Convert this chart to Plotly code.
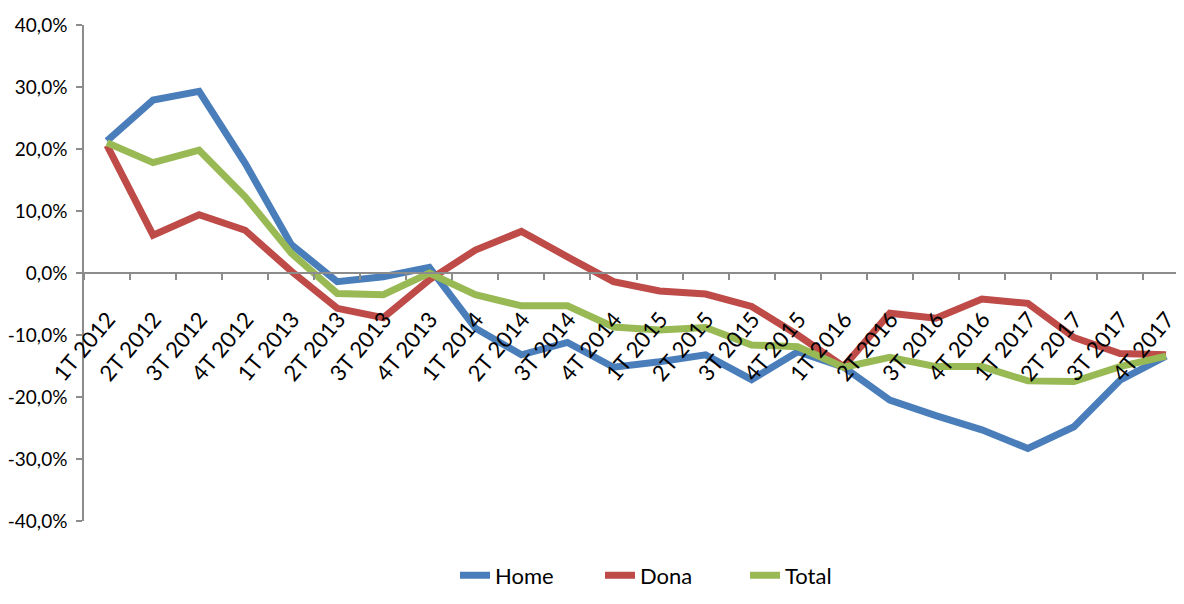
import plotly.graph_objects as go

categories = ["1T 2012", "2T 2012", "3T 2012", "4T 2012",
              "1T 2013", "2T 2013", "3T 2013", "4T 2013",
              "1T 2014", "2T 2014", "3T 2014", "4T 2014",
              "1T 2015", "2T 2015", "3T 2015", "4T 2015",
              "1T 2016", "2T 2016", "3T 2016", "4T 2016",
              "1T 2017", "2T 2017", "3T 2017", "4T 2017"]

home = [21.3, 27.9, 29.3, 17.7, 4.6, -1.4, -0.6, 0.9,
        -8.9, -13.2, -11.2, -15.2, -14.3, -13.2, -17.2, -12.7,
        -15.2, -20.5, -23.0, -25.3, -28.3, -24.8, -17.3, -13.4]
dona = [20.6, 6.1, 9.4, 6.9, 0.3, -5.7, -7.2, -1.1,
        3.7, 6.7, 2.6, -1.4, -2.9, -3.4, -5.4, -10.0,
        -15.1, -6.5, -7.3, -4.2, -4.9, -10.4, -13.0, -13.2]
total = [21.0, 17.8, 19.8, 12.3, 3.2, -3.3, -3.5, 0.0,
         -3.5, -5.3, -5.3, -8.7, -9.2, -8.8, -11.6, -11.9,
         -15.2, -13.6, -15.1, -15.1, -17.4, -17.5, -15.1, -13.4]

series_names = ["Home", "Dona", "Total"]
colors = ["#4A7EBB", "#BE4B48", "#98B954"]

y_tickvals = [40, 30, 20, 10, 0, -10, -20, -30, -40]
y_ticktext = ["40,0%", "30,0%", "20,0%", "10,0%", "0,0%",
              "-10,0%", "-20,0%", "-30,0%", "-40,0%"]

FONT = "Lato, Calibri, Carlito, sans-serif"

fig = go.Figure()
for name, vals, col in zip(series_names, [home, dona, total], colors):
    fig.add_trace(go.Scatter(
        x=categories, y=vals, name=name, mode="lines",
        line=dict(color=col, width=7),
    ))

# page body has an 8px margin: figure is sized/margined to compensate
fig.update_layout(
    width=1176, height=596,
    margin=dict(l=76, r=0, t=17, b=83, autoexpand=False),
    paper_bgcolor="white", plot_bgcolor="white",
    font=dict(family=FONT, size=19, color="black"),
    showlegend=True,
    legend=dict(orientation="h", x=0.535, xanchor="center", y=-0.11,
                yanchor="middle", font=dict(size=22),
                entrywidth=100, entrywidthmode="pixels",
                traceorder="normal"),
    xaxis=dict(
        type="category", range=[-0.5, 23.39],
        anchor="free", position=0.5, automargin=False,
        showline=True, linecolor="#8C8C8C", linewidth=1.5,
        ticks="outside", tickson="boundaries", ticklen=6,
        tickcolor="#8C8C8C", tickwidth=1.5,
        tickangle=-50, showgrid=False, zeroline=False,
        tickfont=dict(size=22), ticklabelstandoff=24, ticklabelshift=1,
    ),
    yaxis=dict(
        range=[-40, 40], tickvals=y_tickvals, ticktext=y_ticktext,
        automargin=False,
        showline=True, linecolor="#8C8C8C", linewidth=1.5,
        ticks="outside", ticklen=6, tickcolor="#8C8C8C", tickwidth=1.5,
        showgrid=False, zeroline=False, tickfont=dict(size=19),
        ticklabelstandoff=5,
    ),
)

fig.write_html("out.html")
